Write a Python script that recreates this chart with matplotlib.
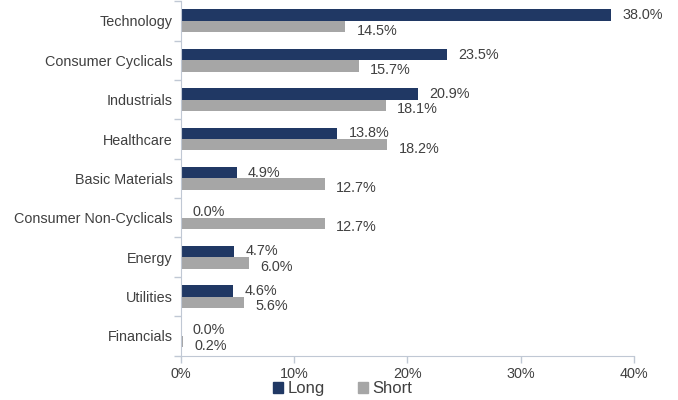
import matplotlib
matplotlib.use("Agg")
import matplotlib.pyplot as plt
import numpy as np
from matplotlib.patches import Patch

plt.rcParams['font.family'] = ['Liberation Sans', 'DejaVu Sans']

categories = ["Technology", "Consumer Cyclicals", "Industrials", "Healthcare",
              "Basic Materials", "Consumer Non-Cyclicals", "Energy", "Utilities", "Financials"]
long_vals = [38.0, 23.5, 20.9, 13.8, 4.9, 0.0, 4.7, 4.6, 0.0]
short_vals = [14.5, 15.7, 18.1, 18.2, 12.7, 12.7, 6.0, 5.6, 0.2]
xticks = [0, 10, 20, 30, 40]

navy = "#203864"
gray = "#A6A6A6"
txt = "#404040"
axc = "#C0C8D4"
fs = 10.4

fig = plt.figure(figsize=(6.78, 4.0), dpi=100)
ax = fig.add_axes([0.267, 0.111, 0.668, 0.886])

n = len(categories)
y = np.arange(n)
h = 0.29
ax.barh(y - h/2, long_vals, height=h, color=navy)
ax.barh(y + h/2, short_vals, height=h, color=gray)

for i in range(n):
    ax.text(long_vals[i] + 1.0, y[i] - h/2 + 0.0, f"{long_vals[i]:.1f}%", va='center', ha='left',
            fontsize=fs, color=txt)
    ax.text(short_vals[i] + 1.0, y[i] + h/2 + 0.1, f"{short_vals[i]:.1f}%", va='center', ha='left',
            fontsize=fs, color=txt)

ax.set_ylim(n - 0.5, -0.5)
ax.set_xlim(0, 40)
ax.set_yticks(y)
ax.set_yticklabels(categories, fontsize=fs, color=txt)
ax.set_yticks(np.arange(-0.5, n, 1), minor=True)
ax.tick_params(axis='y', which='major', length=0, pad=6)
ax.tick_params(axis='y', which='minor', length=5, color=axc, width=1)
ax.set_xticks(xticks)
ax.set_xticklabels([f"{t}%" for t in xticks], fontsize=fs, color=txt)
ax.tick_params(axis='x', length=5, color=axc, width=1, pad=3)
for s in ['top', 'right']:
    ax.spines[s].set_visible(False)
for s in ['left', 'bottom']:
    ax.spines[s].set_color(axc)

handles = [Patch(color=navy, label="Long"), Patch(color=gray, label="Short")]
fig.legend(handles=handles, loc='center', bbox_to_anchor=(0.505, 0.028), ncol=2, frameon=False,
           fontsize=12, handlelength=0.6, handleheight=0.6, handletextpad=0.25, columnspacing=2.0,
           labelcolor=txt)

fig.savefig("out.png", dpi=100)
